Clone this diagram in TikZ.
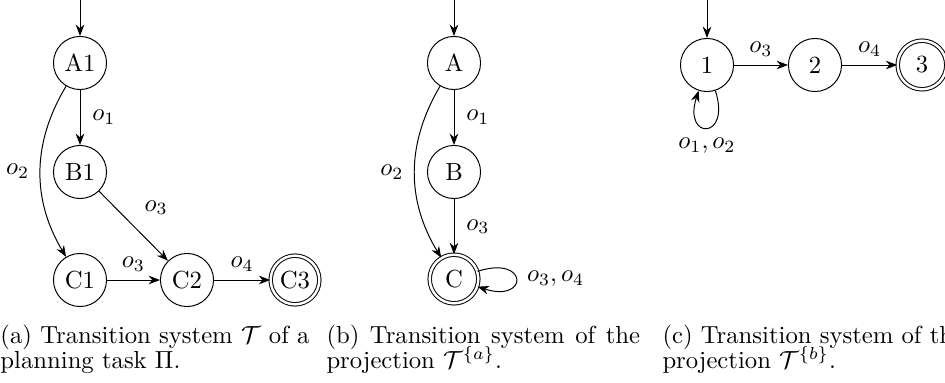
\documentclass[tikz,border=0pt]{standalone}
\usetikzlibrary{arrows.meta}
\begin{document}
\begin{tikzpicture}[x=0.405pt,y=-0.405pt,
  state/.style={circle,draw,minimum size=21.5pt,inner sep=0pt},
  accept/.style={circle,draw,double,double distance=1pt,minimum size=19.7pt,inner sep=0pt},
  trans/.style={-{Stealth[length=4.6pt,width=3.5pt]}},
  captxt/.style={anchor=base west,inner sep=0pt}]
\useasboundingbox (0,0) rectangle (945,382);
% (a)
\node[state] (A1) at (80,63) {A1};
\node[state] (B1) at (80,172) {B1};
\node[state] (C1) at (80,280) {C1};
\node[state] (C2) at (187,280) {C2};
\node[accept] (C3) at (295,280) {C3};
\coordinate (ia) at (80,0);
\draw[trans] (ia) -- (A1);
\draw[trans] (A1) -- node[right=1.5pt] {$o_1$} (B1);
\draw[trans] (A1) to[bend right=31] node[left=1pt] {$o_2$} (C1);
\draw[trans] (B1) -- node[above right=1pt] {$o_3$} (C2);
\draw[trans] (C1) -- node[above] {$o_3$} (C2);
\draw[trans] (C2) -- node[above] {$o_4$} (C3);
% (b)
\node[state] (A) at (454,63) {A};
\node[state] (B) at (454,172) {B};
\node[accept] (C) at (454,279) {C};
\coordinate (ib) at (454,0);
\draw[trans] (ib) -- (A);
\draw[trans] (A) -- node[right=1.5pt] {$o_1$} (B);
\draw[trans] (B) -- node[right=1.5pt] {$o_3$} (C);
\draw[trans] (A) to[bend right=31] node[left=1pt] {$o_2$} (C);
\draw[trans] (C) to[loop,out=18,in=-18,looseness=9] node[right=1pt] {$o_3,o_4$} (C);
% (c)
\node[state] (S1) at (707,65) {1};
\node[state] (S2) at (815,65) {2};
\node[accept] (S3) at (922,65) {3};
\coordinate (ic) at (707,0);
\draw[trans] (ic) -- (S1);
\draw[trans] (S1) -- node[above] {$o_3$} (S2);
\draw[trans] (S2) -- node[above] {$o_4$} (S3);
\draw[trans] (S1) to[loop,out=-72,in=-108,looseness=8] node[below=0.5pt] {$o_1,o_2$} (S1);
% captions
\node[captxt] (ca1) at (0,343) {(a) Transition system $\mathcal{T}$ of a};
\node[captxt] (ca2) at (0,368) {planning task $\Pi$.};
\node[captxt] (cb1) at (326,343) {\makebox[127pt][s]{(b) Transition system of the}};
\node[captxt] (cb2) at (326,368) {projection $\mathcal{T}^{\{a\}}$.};
\node[captxt] (cc1) at (662,343) {(c) Transition system of the};
\node[captxt] (cc2) at (662,368) {projection $\mathcal{T}^{\{b\}}$.};
\end{tikzpicture}
\end{document}
